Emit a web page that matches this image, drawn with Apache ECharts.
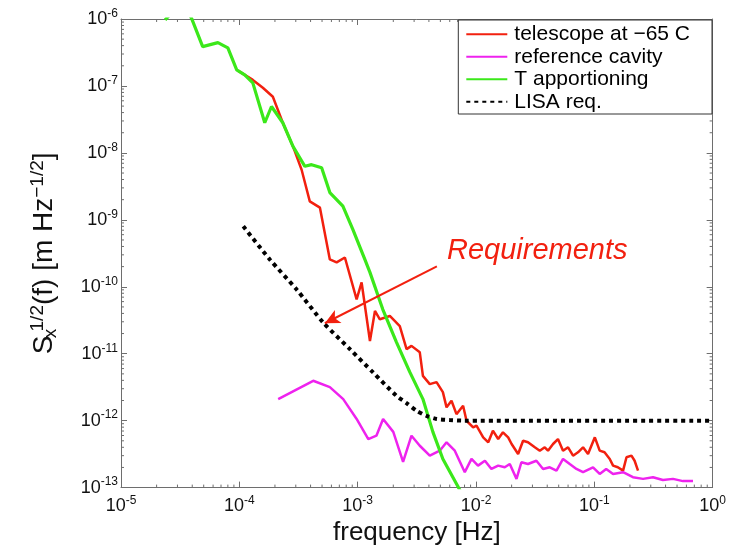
<!DOCTYPE html>
<html>
<head>
<meta charset="utf-8">
<script src="https://cdn.jsdelivr.net/npm/echarts@6/dist/echarts.min.js"></script>
<style>
  html, body { margin: 0; padding: 0; background: #fff; }
  #main { width: 729px; height: 551px; }
</style>
</head>
<body>
<div id="main"></div>
<script>
// values (frequency in Hz, amplitude in m/Hz^1/2)
var telescopeFreq = [9.8e-5, 1.30e-4, 1.58e-4, 1.92e-4, 2.33e-4, 2.84e-4, 3.36e-4, 3.94e-4, 4.80e-4, 5.82e-4,
  6.64e-4, 7.8e-4, 9.8e-4, 1.08e-3, 1.27e-3, 1.40e-3, 1.54e-3, 1.87e-3, 2.27e-3, 2.59e-3,
  2.85e-3, 3.35e-3, 3.56e-3, 4.07e-3, 4.64e-3, 5.25e-3, 5.64e-3, 6.21e-3, 6.84e-3, 7.78e-3,
  8.32e-3, 9.46e-3, 1.01e-2, 1.15e-2, 1.27e-2, 1.39e-2, 1.54e-2, 1.69e-2, 1.87e-2, 2.0e-2,
  2.27e-2, 2.50e-2, 2.75e-2, 3.14e-2, 3.46e-2, 3.81e-2, 4.06e-2, 4.48e-2, 4.93e-2, 5.44e-2,
  6.0e-2, 6.61e-2, 7.28e-2, 8.03e-2, 8.85e-2, 0.101, 0.111, 0.122, 0.135, 0.144,
  0.158, 0.175, 0.187, 0.206, 0.219, 0.234];
var telescopeVal = [1.68e-7, 1.23e-7, 9.4e-8, 6.9e-8, 2.82e-8, 1.25e-8, 5.6e-9, 1.89e-9, 1.52e-9, 2.56e-10,
  2.31e-10, 2.74e-10, 6.5e-11, 1.16e-10, 1.55e-11, 4.35e-11, 3.27e-11, 3.66e-11, 2.59e-11, 1.17e-11,
  1.31e-11, 1.05e-11, 4.67e-12, 3.51e-12, 3.76e-12, 2.67e-12, 1.58e-12, 1.98e-12, 1.25e-12, 1.67e-12,
  9.97e-13, 7.94e-13, 8.4e-13, 5.64e-13, 4.75e-13, 7.08e-13, 5.32e-13, 6.7e-13, 5.64e-13, 4.48e-13,
  3.18e-13, 5.01e-13, 4.75e-13, 4.0e-13, 3.56e-13, 4.0e-13, 3.56e-13, 4.48e-13, 5.32e-13, 3.56e-13,
  4.0e-13, 3.0e-13, 3.37e-13, 4.0e-13, 3.18e-13, 5.64e-13, 3.56e-13, 3.37e-13, 2.68e-13, 2.13e-13,
  2.01e-13, 1.79e-13, 2.84e-13, 3.0e-13, 2.52e-13, 1.79e-13];

var cavityFreq = [2.13e-4, 4.21e-4, 5.82e-4, 7.55e-4, 9.8e-4, 1.23e-3, 1.44e-3, 1.64e-3, 2.0e-3, 2.42e-3,
  2.85e-3, 3.35e-3, 4.07e-3, 4.94e-3, 5.64e-3, 6.62e-3, 8.04e-3, 9.16e-3, 1.04e-2, 1.19e-2,
  1.35e-2, 1.54e-2, 1.75e-2, 1.93e-2, 2.20e-2, 2.42e-2, 2.75e-2, 3.24e-2, 3.69e-2, 4.20e-2,
  4.79e-2, 5.44e-2, 6.2e-2, 7.06e-2, 8.03e-2, 9.75e-2, 0.111, 0.126, 0.144, 0.175,
  0.212, 0.258, 0.313, 0.380, 0.462, 0.561, 0.682];
var cavityVal = [2.1e-12, 3.94e-12, 3.17e-12, 2.1e-12, 1.06e-12, 5.3e-13, 5.96e-13, 1.06e-12, 6.8e-13, 2.42e-13,
  5.96e-13, 4.22e-13, 3.0e-13, 3.56e-13, 4.75e-13, 3.56e-13, 1.70e-13, 2.68e-13, 2.13e-13, 2.52e-13,
  1.90e-13, 2.13e-13, 2.01e-13, 2.25e-13, 1.35e-13, 2.39e-13, 2.25e-13, 2.52e-13, 1.90e-13, 2.01e-13,
  1.79e-13, 2.68e-13, 2.25e-13, 1.90e-13, 1.70e-13, 2.01e-13, 1.60e-13, 1.90e-13, 1.60e-13, 1.70e-13,
  1.43e-13, 1.35e-13, 1.43e-13, 1.30e-13, 1.35e-13, 1.25e-13, 1.25e-13];

var apportionFreq = [2.36e-5, 2.75e-5, 3.6e-5, 3.98e-5, 4.9e-5, 6.59e-5, 8.0e-5, 9.5e-5, 1.11e-4, 1.30e-4,
  1.64e-4, 1.87e-4, 2.33e-4, 2.84e-4, 3.58e-4, 4.08e-4, 4.96e-4, 5.82e-4, 6.64e-4, 7.5e-4,
  9.1e-4, 1.15e-3, 1.27e-3, 1.63e-3, 2.13e-3, 2.76e-3, 3.56e-3, 4.32e-3, 5.25e-3, 7.0e-3, 7.6e-3];
var apportionVal = [9.7e-7, 1.3e-6, 1.4e-6, 9.9e-7, 3.87e-7, 4.43e-7, 3.7e-7, 1.74e-7, 1.46e-7, 1.11e-7,
  2.82e-8, 4.93e-8, 2.82e-8, 1.25e-8, 6.3e-9, 6.67e-9, 6.0e-9, 2.55e-9, 2.01e-9, 1.6e-9,
  7.2e-10, 2.56e-10, 1.64e-10, 4.6e-11, 1.48e-11, 5.3e-12, 2.1e-12, 6.8e-13, 2.68e-13, 1.06e-13, 8e-14];

var lisaFreq = [1.08e-4, 1.81e-4, 3.05e-4, 5.12e-4, 8.6e-4, 1.35e-3, 2.13e-3, 2.59e-3, 3.14e-3, 3.82e-3,
  4.64e-3, 6.0e-3, 7.8e-3, 1.0];
var lisaVal = [8.0e-10, 2.56e-10, 9.1e-11, 2.92e-11, 1.17e-11, 5.25e-12, 2.35e-12, 1.83e-12, 1.41e-12, 1.18e-12,
  1.06e-12, 1.02e-12, 1.0e-12, 1.0e-12];

var seriesNames = ['telescope at \u221265 C', 'reference cavity', 'T apportioning', 'LISA req.'];

// arrow of the annotation: [start, tip] as [freq, value]
var arrowStart = [4.67e-3, 2.01e-10];
var arrowTip = [5.28e-4, 2.85e-11];

var X_MIN = 1e-5, X_MAX = 1, Y_MIN = 1e-13, Y_MAX = 1e-6;
var FONT = '"Liberation Sans", Arial, Helvetica, sans-serif';
var AXIS_COLOR = '#6e6e6e';

function zip(xs, ys) {
    return xs.map(function (x, i) { return [x, ys[i]]; });
}

// minor ticks 2..9 in every decade
var minorX = [], minorY = [];
for (var e = -5; e < 0; e++) for (var k = 2; k < 10; k++) minorX.push([k * Math.pow(10, e), Y_MIN]);
for (var e2 = -13; e2 < -6; e2++) for (var k2 = 2; k2 < 10; k2++) minorY.push([X_MIN, k2 * Math.pow(10, e2)]);

function powLabel(value) {
    var ex = Math.round(Math.log10(value));
    return '{b|10}{s|' + ex + '}';
}

var labelRich = {
    b: { fontSize: 18, fontFamily: FONT, color: '#111' },
    s: { fontSize: 12, fontFamily: FONT, color: '#111', padding: [0, 0, 11, 0] }
};

var chart = echarts.init(document.getElementById('main'), null, { renderer: 'canvas' });

var option = {
    animation: false,
    backgroundColor: '#fff',
    grid: { left: 121, right: 16, top: 19, bottom: 62, containLabel: false },
    legend: {
        orient: 'vertical',
        right: 17,
        top: 20,
        itemWidth: 41,
        itemHeight: 14,
        itemGap: 0,
        padding: [3, 22, 1, 7],
        borderColor: '#333',
        borderWidth: 1,
        backgroundColor: '#fff',
        itemStyle: { opacity: 0 },
        textStyle: { fontSize: 21, lineHeight: 22.5, color: '#000', fontFamily: FONT, padding: [0, 0, 0, 2] },
        data: seriesNames
    },
    xAxis: [{
        type: 'log', logBase: 10, min: X_MIN, max: X_MAX, interval: 1, position: 'bottom',
        axisLine: { show: true, lineStyle: { color: AXIS_COLOR } },
        axisTick: { show: true, inside: true, length: 6, lineStyle: { color: AXIS_COLOR } },
        splitLine: { show: false },
        axisLabel: { margin: 7, formatter: powLabel, rich: labelRich },
        name: 'frequency [Hz]', nameLocation: 'middle', nameGap: 28,
        nameTextStyle: { fontSize: 26, fontFamily: FONT, color: '#111' }
    }, {
        type: 'log', logBase: 10, min: X_MIN, max: X_MAX, interval: 1, position: 'top',
        axisLine: { show: true, lineStyle: { color: AXIS_COLOR } },
        axisTick: { show: true, inside: true, length: 6, lineStyle: { color: AXIS_COLOR } },
        splitLine: { show: false }, axisLabel: { show: false }
    }],
    yAxis: [{
        type: 'log', logBase: 10, min: Y_MIN, max: Y_MAX, interval: 1, position: 'left',
        axisLine: { show: true, lineStyle: { color: AXIS_COLOR } },
        axisTick: { show: true, inside: true, length: 6, lineStyle: { color: AXIS_COLOR } },
        splitLine: { show: false },
        axisLabel: { margin: 3, formatter: powLabel, rich: labelRich },
        name: '{m|S}{sub|x}{sup|1/2}{m|(f) [m Hz}{sup|\u22121/2}{m|]}',
        nameLocation: 'middle', nameGap: 60,
        nameTextStyle: {
            color: '#111', fontFamily: FONT,
            rich: {
                m: { fontSize: 28, fontFamily: FONT, color: '#111' },
                sub: { fontSize: 19, fontFamily: FONT, color: '#111', width: 4, padding: [12, 0, 0, 0] },
                sup: { fontSize: 19, fontFamily: FONT, color: '#111', padding: [0, 0, 14, 0] }
            }
        }
    }, {
        type: 'log', logBase: 10, min: Y_MIN, max: Y_MAX, interval: 1, position: 'right',
        axisLine: { show: true, lineStyle: { color: AXIS_COLOR } },
        axisTick: { show: true, inside: true, length: 6, lineStyle: { color: AXIS_COLOR } },
        splitLine: { show: false }, axisLabel: { show: false }
    }],
    series: [
        {
            name: seriesNames[0], type: 'line', data: zip(telescopeFreq, telescopeVal),
            symbol: 'none', clip: true, lineStyle: { color: '#f2200f', width: 2.5 }, itemStyle: { color: '#f2200f' },
            markLine: {
                silent: true, symbol: ['none', 'arrow'], symbolSize: [11, 15],
                label: { show: false },
                lineStyle: { color: '#f2200f', width: 2, type: 'solid' },
                data: [[{ coord: arrowStart }, { coord: arrowTip }]]
            }
        },
        {
            name: seriesNames[1], type: 'line', data: zip(cavityFreq, cavityVal),
            symbol: 'none', clip: true, lineStyle: { color: '#ee22ee', width: 2.5 }, itemStyle: { color: '#ee22ee' }
        },
        {
            name: seriesNames[2], type: 'line', data: zip(apportionFreq, apportionVal),
            symbol: 'none', clip: true, lineStyle: { color: '#3be81a', width: 3.2 }, itemStyle: { color: '#3be81a' }
        },
        {
            name: seriesNames[3], type: 'line', data: zip(lisaFreq, lisaVal),
            symbol: 'none', clip: true, smooth: 0.25,
            lineStyle: { color: '#000', width: 4, type: [4, 4] }, itemStyle: { color: '#000' }
        },
        {
            type: 'custom', silent: true, data: minorX, encode: { x: 0, y: 1 },
            renderItem: function (params, api) {
                var pb = api.coord([api.value(0), Y_MIN]);
                var pt = api.coord([api.value(0), Y_MAX]);
                var st = { stroke: AXIS_COLOR, lineWidth: 1 };
                return { type: 'group', children: [
                    { type: 'line', shape: { x1: pb[0], y1: pb[1], x2: pb[0], y2: pb[1] - 3 }, style: st },
                    { type: 'line', shape: { x1: pt[0], y1: pt[1], x2: pt[0], y2: pt[1] + 3 }, style: st }
                ] };
            }
        },
        {
            type: 'custom', silent: true, data: minorY, encode: { x: 0, y: 1 },
            renderItem: function (params, api) {
                var pl = api.coord([X_MIN, api.value(1)]);
                var pr = api.coord([X_MAX, api.value(1)]);
                var st = { stroke: AXIS_COLOR, lineWidth: 1 };
                return { type: 'group', children: [
                    { type: 'line', shape: { x1: pl[0], y1: pl[1], x2: pl[0] + 3, y2: pl[1] }, style: st },
                    { type: 'line', shape: { x1: pr[0], y1: pr[1], x2: pr[0] - 3, y2: pr[1] }, style: st }
                ] };
            }
        }
    ],
    graphic: [{
        type: 'text', left: 447, top: 236, z: 100,
        style: { text: 'Requirements', font: 'italic 29px ' + FONT, fill: '#f2200f' }
    }]
};

chart.setOption(option);
</script>
</body>
</html>
